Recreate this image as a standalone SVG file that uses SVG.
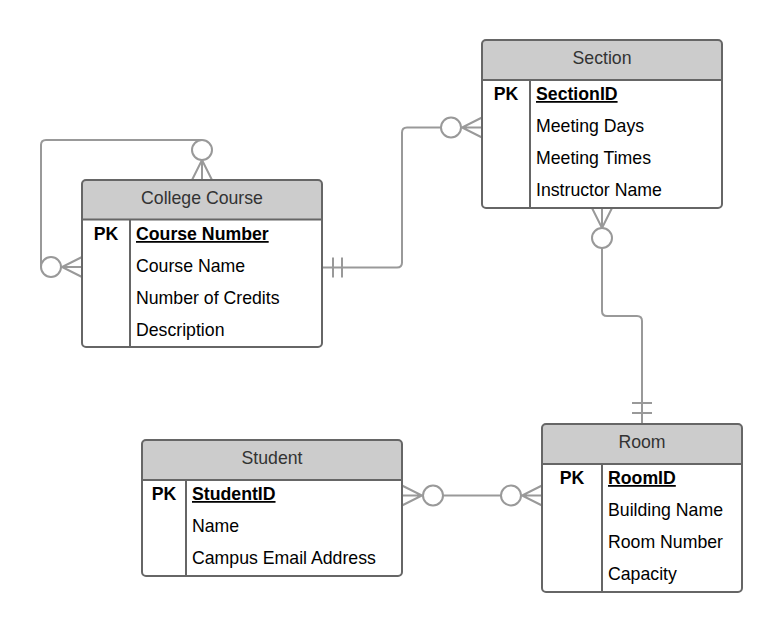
<svg xmlns="http://www.w3.org/2000/svg" width="783" height="632" viewBox="0 0 783 632">
<style>
.box{fill:#ffffff;stroke:none}
.hdr{fill:#cccccc;stroke:none}
.bd{fill:none;stroke:#666666;stroke-width:2}
.ln{fill:none;stroke:#666666;stroke-width:2}
.title{font-family:"Liberation Sans",Arial,sans-serif;font-size:17.7px;fill:#333333;text-anchor:middle}
.pk{font-family:"Liberation Sans",Arial,sans-serif;font-size:17.7px;font-weight:bold;fill:#000000;text-anchor:middle}
.key{font-family:"Liberation Sans",Arial,sans-serif;font-size:17.7px;font-weight:bold;fill:#000000;text-decoration:underline}
.attr{font-family:"Liberation Sans",Arial,sans-serif;font-size:17.7px;fill:#000000}
.c{fill:none;stroke:#999999;stroke-width:2}
.o{fill:#ffffff;stroke:#999999;stroke-width:2}
</style>
<rect width="783" height="632" fill="#ffffff"/>
<g id="connectors">
  <!-- self loop College Course -->
  <path class="c" d="M202 140 H46 Q41 140 41 145 V267"/>
  <path class="c" d="M192 180 L202 160 L212 180 M202 180 V160"/>
  <circle class="o" cx="202" cy="150" r="10"/>
  <path class="c" d="M82 257 L62 267 L82 277 M82 267 H62"/>
  <circle class="o" cx="51" cy="267" r="10"/>
  <!-- College Course to Section -->
  <path class="c" d="M322 267.5 H397 Q402 267.5 402 262.5 V132.5 Q402 127.5 407 127.5 H441"/>
  <path class="c" d="M333 257.5 V277.5 M342 257.5 V277.5"/>
  <path class="c" d="M482 117.5 L462 127.5 L482 137.5 M482 127.5 H462"/>
  <circle class="o" cx="451" cy="127.5" r="10"/>
  <!-- Section to Room -->
  <path class="c" d="M602 248 V311 Q602 316 607 316 H637 Q642 316 642 321 V424"/>
  <path class="c" d="M592 208 L602 228 L612 208 M602 208 V228"/>
  <circle class="o" cx="602" cy="238" r="10"/>
  <path class="c" d="M632 403 H652 M632 413 H652"/>
  <!-- Student to Room -->
  <path class="c" d="M443 495.5 H501"/>
  <path class="c" d="M402 485.5 L422 495.5 L402 505.5 M402 495.5 H422"/>
  <circle class="o" cx="433" cy="495.5" r="10"/>
  <path class="c" d="M542 485.5 L522 495.5 L542 505.5 M542 495.5 H522"/>
  <circle class="o" cx="511" cy="495.5" r="10"/>
</g>
<g id="college-course">
  <rect class="box" x="82" y="180" width="240" height="167" rx="4"/>
  <path class="hdr" d="M82 219.5 V184 Q82 180 86 180 H318 Q322 180 322 184 V219.5 Z"/>
  <line class="ln" x1="82" y1="219.5" x2="322" y2="219.5"/>
  <line class="ln" x1="130" y1="219.5" x2="130" y2="347"/>
  <rect class="bd" x="82" y="180" width="240" height="167" rx="4"/>
  <text class="title" x="202" y="203.5">College Course</text>
  <text class="pk" x="106" y="240">PK</text>
  <text class="key" x="136" y="240">Course Number</text>
  <text class="attr" x="136" y="272">Course Name</text>
  <text class="attr" x="136" y="304">Number of Credits</text>
  <text class="attr" x="136" y="336">Description</text>
</g>
<g id="section">
  <rect class="box" x="482" y="40" width="240" height="168" rx="4"/>
  <path class="hdr" d="M482 80 V44 Q482 40 486 40 H718 Q722 40 722 44 V80 Z"/>
  <line class="ln" x1="482" y1="80" x2="722" y2="80"/>
  <line class="ln" x1="530" y1="80" x2="530" y2="208"/>
  <rect class="bd" x="482" y="40" width="240" height="168" rx="4"/>
  <text class="title" x="602" y="63.5">Section</text>
  <text class="pk" x="506" y="100">PK</text>
  <text class="key" x="536" y="100">SectionID</text>
  <text class="attr" x="536" y="132">Meeting Days</text>
  <text class="attr" x="536" y="164">Meeting Times</text>
  <text class="attr" x="536" y="196">Instructor Name</text>
</g>
<g id="room">
  <rect class="box" x="542" y="424" width="200" height="168" rx="4"/>
  <path class="hdr" d="M542 464 V428 Q542 424 546 424 H738 Q742 424 742 428 V464 Z"/>
  <line class="ln" x1="542" y1="464" x2="742" y2="464"/>
  <line class="ln" x1="602" y1="464" x2="602" y2="592"/>
  <rect class="bd" x="542" y="424" width="200" height="168" rx="4"/>
  <text class="title" x="642" y="447.5">Room</text>
  <text class="pk" x="572" y="484">PK</text>
  <text class="key" x="608" y="484">RoomID</text>
  <text class="attr" x="608" y="516">Building Name</text>
  <text class="attr" x="608" y="548">Room Number</text>
  <text class="attr" x="608" y="580">Capacity</text>
</g>
<g id="student">
  <rect class="box" x="142" y="440" width="260" height="136" rx="4"/>
  <path class="hdr" d="M142 480 V444 Q142 440 146 440 H398 Q402 440 402 444 V480 Z"/>
  <line class="ln" x1="142" y1="480" x2="402" y2="480"/>
  <line class="ln" x1="186" y1="480" x2="186" y2="576"/>
  <rect class="bd" x="142" y="440" width="260" height="136" rx="4"/>
  <text class="title" x="272" y="463.5">Student</text>
  <text class="pk" x="164" y="500">PK</text>
  <text class="key" x="192" y="500">StudentID</text>
  <text class="attr" x="192" y="532">Name</text>
  <text class="attr" x="192" y="564">Campus Email Address</text>
</g>
</svg>
